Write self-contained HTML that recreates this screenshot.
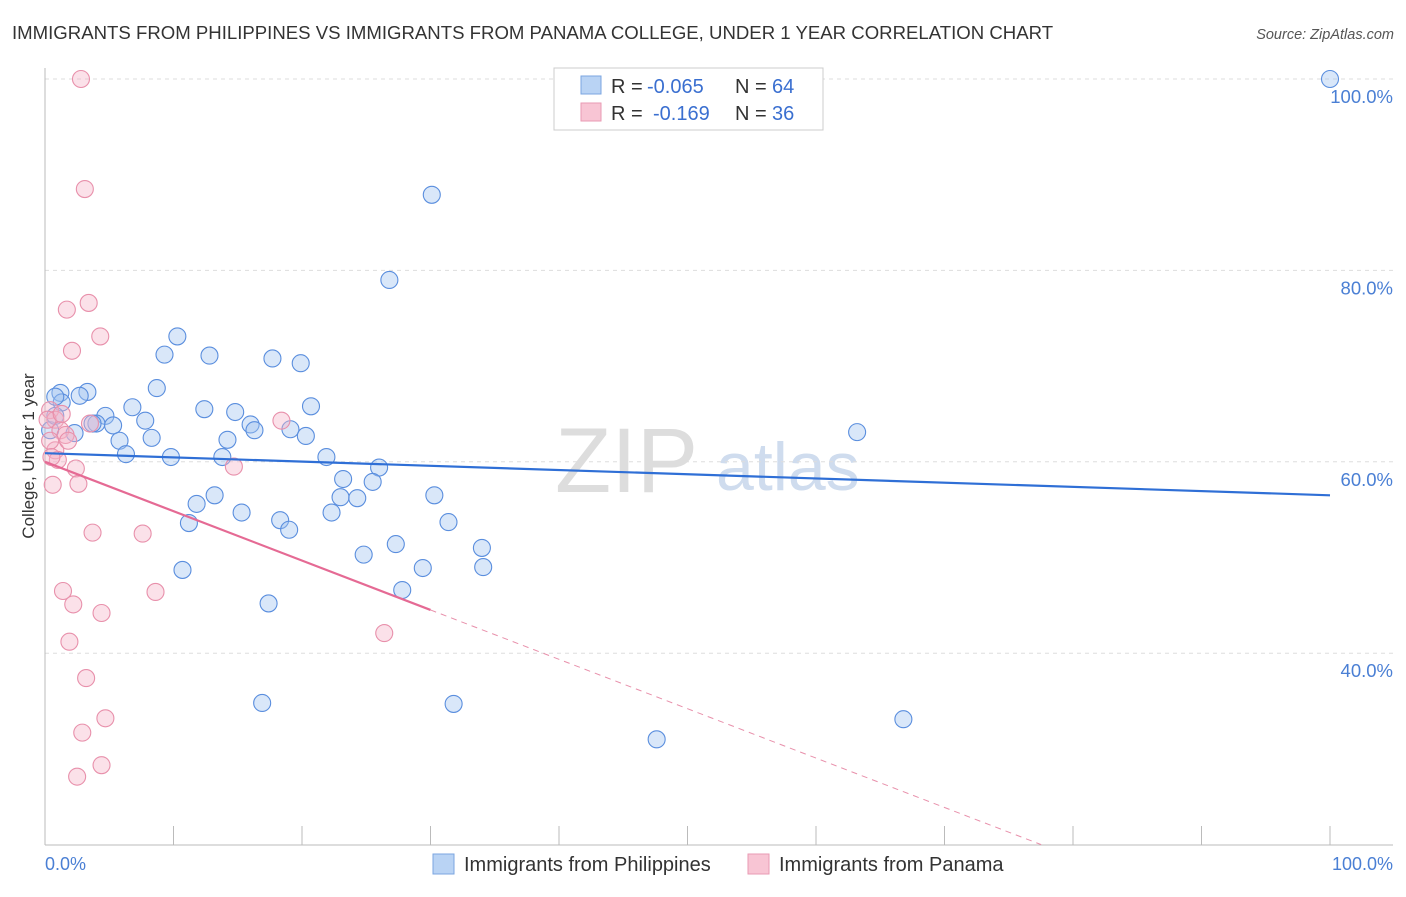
<!DOCTYPE html>
<html><head><meta charset="utf-8"><style>
body{margin:0;background:#fff;font-family:"Liberation Sans",sans-serif;}
svg text{font-family:"Liberation Sans",sans-serif;}
</style></head><body>
<svg id="chart" width="1406" height="892" viewBox="0 0 1406 892">
<text x="12" y="39" font-size="18.6" fill="#333">IMMIGRANTS FROM PHILIPPINES VS IMMIGRANTS FROM PANAMA COLLEGE, UNDER 1 YEAR CORRELATION CHART</text>
<text x="1394" y="39" font-size="14.5" fill="#555" font-style="italic" text-anchor="end">Source: ZipAtlas.com</text>
<text x="555" y="492" font-size="92" fill="#ddd" font-family="Liberation Serif,serif">ZIP</text>
<text x="716" y="490" font-size="68" fill="#cfdcee">atlas</text>
<g id="grid"></g>
<g id="axes"></g>
<g id="pts"></g>
<g id="lines"></g>
<text transform="translate(34,456) rotate(-90)" font-size="17" fill="#333" text-anchor="middle">College, Under 1 year</text>
<text x="45" y="870" font-size="18" fill="#4a7fd4">0.0%</text>
<text x="1393" y="870" font-size="18" fill="#4a7fd4" text-anchor="end">100.0%</text>
<g>
<rect x="554" y="68" width="269" height="62" fill="#fff" stroke="#ccc"/>
<rect x="581" y="76" width="20" height="18" fill="#b9d3f4" stroke="#7ba6e0"/>
<rect x="581" y="103" width="20" height="18" fill="#f8c5d4" stroke="#e99ab3"/>
<text x="611" y="93" font-size="20" fill="#333">R =</text>
<text x="647" y="93" font-size="20" fill="#3a6fd0">-0.065</text>
<text x="735" y="93" font-size="20" fill="#333">N =</text>
<text x="772" y="93" font-size="20" fill="#3a6fd0">64</text>
<text x="611" y="120" font-size="20" fill="#333">R =</text>
<text x="653" y="120" font-size="20" fill="#3a6fd0">-0.169</text>
<text x="735" y="120" font-size="20" fill="#333">N =</text>
<text x="772" y="120" font-size="20" fill="#3a6fd0">36</text>
</g>
<g>
<rect x="433" y="854" width="21" height="20" fill="#b9d3f4" stroke="#7ba6e0"/>
<text x="464" y="871" font-size="20" fill="#333">Immigrants from Philippines</text>
<rect x="748" y="854" width="21" height="20" fill="#f8c5d4" stroke="#e99ab3"/>
<text x="779" y="871" font-size="20" fill="#333">Immigrants from Panama</text>
</g>
</svg>
<script>
const yTicks=[100,80,60,40];
const xTicks=[0,10,20,30,40,50,60,70,80,90,100];
const blueX=[100,30.1,26.8,10.3,9.3,12.8,17.7,19.9,8.7,1.2,3.3,2.7,1.3,0.8,6.8,20.7,12.4,14.8,4.7,7.8,4.0,5.3,16.0,3.7,2.3,16.3,19.1,20.3,5.8,8.3,14.2,6.3,9.8,13.8,21.9,63.2,26.0,23.2,25.5,23.0,24.3,30.3,13.2,11.8,15.3,18.3,22.3,31.4,11.2,19.0,27.3,24.8,34.0,29.4,34.1,10.7,17.4,27.8,16.9,31.8,47.6,66.8,0.4,0.8];
const blueY=[100,87.9,79.0,73.1,71.2,71.1,70.8,70.3,67.7,67.2,67.3,66.9,66.2,66.8,65.7,65.8,65.5,65.2,64.8,64.3,64.0,63.8,63.9,64.0,63.0,63.3,63.4,62.7,62.2,62.5,62.3,60.8,60.5,60.5,60.5,63.1,59.4,58.2,57.9,56.3,56.2,56.5,56.5,55.6,54.7,53.9,54.7,53.7,53.6,52.9,51.4,50.3,51.0,48.9,49.0,48.7,45.2,46.6,34.8,34.7,31.0,33.1,63.3,64.8];
const pinkX=[2.8,3.1,3.4,1.7,4.3,2.1,0.4,0.8,1.2,1.6,0.8,1.0,0.4,3.5,18.4,14.7,2.4,2.6,0.6,3.7,7.6,1.4,8.6,2.2,4.4,1.9,26.4,3.2,4.7,2.9,4.4,2.5,0.2,1.3,1.8,0.5];
const pinkY=[100,88.5,76.6,75.9,73.1,71.6,65.4,64.4,63.3,62.8,61.2,60.2,62.2,64.0,64.3,59.5,59.3,57.7,57.6,52.6,52.5,46.5,46.4,45.1,44.2,41.2,42.1,37.4,33.2,31.7,28.3,27.1,64.4,65.0,62.2,60.5];
const blueTrend=[60.9,56.5];
const pinkTrend=[60.0,-0.516];
const NS='http://www.w3.org/2000/svg';
const X=v=>45+v*12.85, Y=v=>79+(100-v)*9.57;
function mk(tag,attrs,parent){const e=document.createElementNS(NS,tag);for(const k in attrs)e.setAttribute(k,attrs[k]);document.getElementById(parent).appendChild(e);return e;}
yTicks.forEach(t=>{
 const l=mk('line',{x1:45,x2:1393,y1:Y(t),y2:Y(t),stroke:'#ddd','stroke-dasharray':'4,4'},'grid');
 
 
 const tx=mk('text',{x:1393,y:Y(t)+24,'font-size':18.5,fill:'#4a7fd4','text-anchor':'end'},'grid');tx.textContent=t.toFixed(1)+'%';
 
 
});
const ax=mk('line',{x1:45,x2:45,y1:68,y2:845,stroke:'#bbb'},'axes');


const bx=mk('line',{x1:45,x2:1393,y1:845,y2:845,stroke:'#bbb'},'axes');


xTicks.forEach(t=>{
 const l=mk('line',{x1:X(t),x2:X(t),y1:826,y2:845,stroke:'#bbb'},'axes');
 
 
});
blueX.forEach((v,i)=>{
 const c=mk('circle',{cx:X(v),cy:Y(blueY[i]),r:8.5,fill:'rgba(160,196,240,0.4)',stroke:'#5a8ede','stroke-width':1.1},'pts');
 
 
});
pinkX.forEach((v,i)=>{
 const c=mk('circle',{cx:X(v),cy:Y(pinkY[i]),r:8.5,fill:'rgba(246,180,200,0.4)',stroke:'#e890ab','stroke-width':1.1},'pts');
 
 
});
const bl=mk('line',{x1:X(0),y1:Y(blueTrend[0]),x2:X(100),y2:Y(blueTrend[1]),stroke:'#2f6fd6','stroke-width':2.2},'lines');


const pe=(pinkTrend[0]-20)/-pinkTrend[1];
const pl=mk('line',{x1:X(0),y1:Y(pinkTrend[0]),x2:X(30),y2:Y(pinkTrend[0]+pinkTrend[1]*30),stroke:'#e56a94','stroke-width':2.2},'lines');


const pd=mk('line',{x1:X(30),y1:Y(pinkTrend[0]+pinkTrend[1]*30),x2:X(pe),y2:Y(20),stroke:'#e890ab','stroke-width':1,'stroke-dasharray':'6,5'},'lines');


</script>
</body></html>
